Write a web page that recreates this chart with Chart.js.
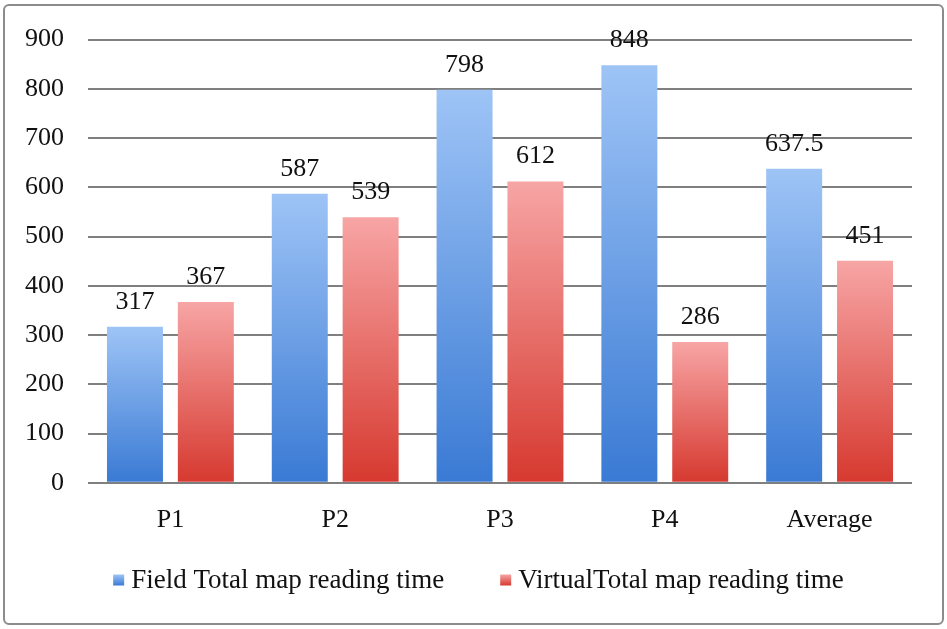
<!DOCTYPE html>
<html>
<head>
<meta charset="utf-8">
<script src="https://cdn.jsdelivr.net/npm/chart.js@4/dist/chart.umd.min.js"></script>
<style>
  html, body { margin: 0; padding: 0; background: #fff; }
  .wrap { position: relative; width: 947px; height: 629px; }
  .frame {
    position: absolute; left: 3px; top: 4px; width: 937px; height: 617px;
    border: 2px solid #8c8c8c; border-radius: 6px; pointer-events: none;
  }
  canvas { position: absolute; left: 0; top: 0; }
</style>
</head>
<body>
<div class="wrap">
  <canvas id="chart" width="947" height="629"></canvas>
  <div class="frame"></div>
</div>
<script>
const categories = ['P1', 'P2', 'P3', 'P4', 'Average'];
const fieldTimes = [317, 587, 798, 848, 637.5];
const virtualTimes = [367, 539, 612, 286, 451];
const seriesNames = ['Field Total map reading time', 'VirtualTotal map reading time'];

const serif = '"Liberation Serif", "DejaVu Serif", serif';
const blueTop = '#9ec4f6', blueBottom = '#3a7ad4';
const redTop = '#f7a5a5', redBottom = '#d6392f';

// vertical gradient per bar, light on top, dark at the base
function barGradient(top, bottom) {
  return (ctx) => {
    const chart = ctx.chart;
    if (!chart.chartArea || ctx.raw === undefined) return bottom;
    const y = chart.scales.y;
    const g = chart.ctx.createLinearGradient(0, y.getPixelForValue(ctx.raw), 0, y.getPixelForValue(0));
    g.addColorStop(0, top);
    g.addColorStop(1, bottom);
    return g;
  };
}

// value above each bar
const valueLabels = {
  id: 'valueLabels',
  afterDatasetsDraw(chart) {
    const ctx = chart.ctx;
    ctx.save();
    ctx.font = '26px ' + serif;
    ctx.fillStyle = '#111';
    ctx.textAlign = 'center';
    ctx.textBaseline = 'alphabetic';
    chart.data.datasets.forEach((ds, i) => {
      chart.getDatasetMeta(i).data.forEach((bar, j) => {
        ctx.fillText(String(ds.data[j]), bar.x, bar.y - 18);
      });
    });
    ctx.restore();
  }
};

// legend drawn under the axis, centred, small gradient squares
const bottomLegend = {
  id: 'bottomLegend',
  afterDraw(chart) {
    const ctx = chart.ctx;
    const colors = [[blueTop, blueBottom], [redTop, redBottom]];
    const box = 11, gapText = 7, gapItems = 56, cy = 580;
    ctx.save();
    ctx.font = '27px ' + serif;
    const widths = seriesNames.map(n => ctx.measureText(n).width);
    const total = widths.reduce((a, w) => a + box + gapText + w, 0) + gapItems;
    let x = (chart.width - total) / 2 + 5;
    seriesNames.forEach((name, i) => {
      const g = ctx.createLinearGradient(0, cy - box / 2, 0, cy + box / 2);
      g.addColorStop(0, colors[i][0]);
      g.addColorStop(1, colors[i][1]);
      ctx.fillStyle = g;
      ctx.fillRect(x, cy - box / 2, box, box);
      x += box + gapText;
      ctx.fillStyle = '#111';
      ctx.textBaseline = 'middle';
      ctx.fillText(name, x, cy + 1);
      x += widths[i] + gapItems;
    });
    ctx.restore();
  }
};

new Chart(document.getElementById('chart'), {
  type: 'bar',
  data: {
    labels: categories,
    datasets: [
      {
        label: seriesNames[0],
        data: fieldTimes,
        backgroundColor: barGradient(blueTop, blueBottom),
        categoryPercentage: 0.86,
        barPercentage: 0.79
      },
      {
        label: seriesNames[1],
        data: virtualTimes,
        backgroundColor: barGradient(redTop, redBottom),
        categoryPercentage: 0.86,
        barPercentage: 0.79
      }
    ]
  },
  options: {
    responsive: false,
    animation: false,
    layout: {
      padding: { left: 1, right: 35, top: 39, bottom: 79 }
    },
    plugins: {
      tooltip: { enabled: false },
      legend: { display: false }
    },
    scales: {
      x: {
        grid: { display: false },
        border: { display: false },
        ticks: {
          font: { family: serif, size: 26 },
          color: '#111',
          padding: 14
        }
      },
      y: {
        min: 0,
        max: 900,
        border: { display: false },
        grid: { color: '#7f7f7f', lineWidth: 2, drawTicks: false },
        ticks: {
          stepSize: 100,
          font: { family: serif, size: 26 },
          color: '#111',
          padding: 24
        }
      }
    }
  },
  plugins: [valueLabels, bottomLegend]
});
</script>
</body>
</html>
